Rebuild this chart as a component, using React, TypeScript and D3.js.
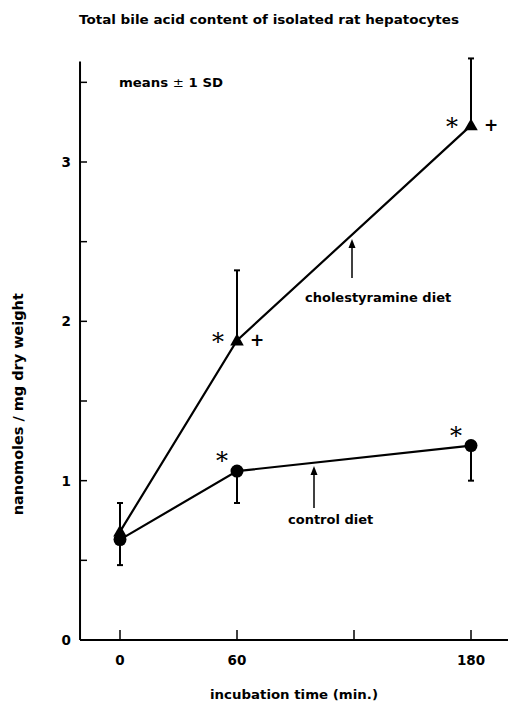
import React from "react";
import * as d3 from "d3";

// incubation times (min.)
const times = [0, 60, 180];

// nanomoles / mg dry weight, means and SD (only the drawn half of the bar)
const controlMeans = [0.63, 1.06, 1.22];
const controlSD = [0.16, 0.2, 0.22];
const cholMeans = [0.68, 1.88, 3.23];
const cholSD = [0.18, 0.44, 0.42];

// significance marks per time point
const controlStars = [false, true, true];
const cholStars = [false, true, true];
const cholPlus = [false, true, true];

const xTicks = [0, 60, 120, 180];
const xTickLabels = ["0", "60", "", "180"];
const yTicks = [0, 0.5, 1, 1.5, 2, 2.5, 3, 3.5];
const yTickLabels = ["0", "", "1", "", "2", "", "3", ""];

const W = 508;
const H = 703;
const FONT = "'DejaVu Sans', 'Liberation Sans', Arial, sans-serif";

// small filled arrowhead pointing up, tip at (0,0)
const arrowHead = "M0,0 L-3.5,9 L3.5,9 Z";

export default function App(): React.ReactElement {
    const x = d3.scaleLinear().domain([0, 180]).range([120, 471]);
    const y = d3.scaleLinear().domain([0, 3]).range([640, 162]);

    const xStart = x(-20.5);
    const xEnd = W;
    const yTop = y(3.63);

    const line = d3.line<number>()
        .x((_, i) => x(times[i]))
        .y((d) => y(d));

    const triangle = d3.symbol().type(d3.symbolTriangle).size(80)();

    return (
        <svg
            width={W}
            height={H}
            style={{ position: "absolute", left: 0, top: 0, background: "#fff" }}
            fontFamily={FONT}
            fontWeight="bold"
            fill="#000"
        >
            <text x={79} y={24} fontSize={13} textLength={380} lengthAdjust="spacingAndGlyphs">
                Total bile acid content of isolated rat hepatocytes
            </text>

            {/* axes */}
            <g stroke="#000" strokeWidth={2} fill="none">
                <line x1={xStart} x2={xStart} y1={y(0)} y2={yTop} />
                <line x1={xStart} x2={xEnd} y1={y(0)} y2={y(0)} />
                {yTicks.map((t) => (
                    <line key={"yt" + t} x1={xStart} x2={xStart + 7} y1={y(t)} y2={y(t)} strokeWidth={1.5} />
                ))}
                {xTicks.map((t) => (
                    <line key={"xt" + t} x1={x(t)} x2={x(t)} y1={y(0)} y2={y(0) - 10} strokeWidth={1.5} />
                ))}
            </g>
            <g fontSize={13.5} textAnchor="end">
                {yTicks.map((t, i) => (
                    <text key={"yl" + t} x={71} y={y(t)} dy="0.36em">{yTickLabels[i]}</text>
                ))}
            </g>
            <g fontSize={13.5} textAnchor="middle">
                {xTicks.map((t, i) => (
                    <text key={"xl" + t} x={x(t)} y={665}>{xTickLabels[i]}</text>
                ))}
            </g>
            <text x={210} y={699} fontSize={13} textLength={168} lengthAdjust="spacingAndGlyphs">
                incubation time (min.)
            </text>
            <text
                transform={`translate(23,${y(1.48)}) rotate(-90)`}
                textAnchor="middle"
                fontSize={13.5}
                textLength={222}
                lengthAdjust="spacingAndGlyphs"
            >
                nanomoles / mg dry weight
            </text>

            <text x={119} y={87} fontSize={13} textLength={104} lengthAdjust="spacingAndGlyphs">
                means <tspan fontWeight="normal">±</tspan> 1 SD
            </text>

            {/* error bars */}
            <g stroke="#000" strokeWidth={2}>
                {times.map((t, i) => (
                    <g key={"ec" + t}>
                        <line x1={x(t)} x2={x(t)} y1={y(controlMeans[i])} y2={y(controlMeans[i] - controlSD[i])} />
                        <line x1={x(t) - 3} x2={x(t) + 3} y1={y(controlMeans[i] - controlSD[i])} y2={y(controlMeans[i] - controlSD[i])} />
                    </g>
                ))}
                {times.map((t, i) => (
                    <g key={"eh" + t}>
                        <line x1={x(t)} x2={x(t)} y1={y(cholMeans[i])} y2={y(cholMeans[i] + cholSD[i])} />
                        <line x1={x(t) - 3} x2={x(t) + 3} y1={y(cholMeans[i] + cholSD[i])} y2={y(cholMeans[i] + cholSD[i])} />
                    </g>
                ))}
            </g>

            {/* series lines */}
            <path d={line(controlMeans) ?? ""} fill="none" stroke="#000" strokeWidth={2.2} />
            <path d={line(cholMeans) ?? ""} fill="none" stroke="#000" strokeWidth={2.2} />

            {/* markers */}
            {times.map((t, i) => (
                <circle key={"c" + t} cx={x(t)} cy={y(controlMeans[i])} r={6.5} />
            ))}
            {times.map((t, i) => (
                <path key={"t" + t} d={triangle ?? ""} transform={`translate(${x(t)},${y(cholMeans[i]) + 1})`} />
            ))}

            {/* significance marks */}
            <g fontFamily="'DejaVu Serif', serif" fontWeight="normal" fontSize={24} textAnchor="middle">
                {times.map((t, i) => controlStars[i] ? (
                    <text key={"sc" + t} x={x(t) - 15} y={y(controlMeans[i]) - 2}>*</text>
                ) : null)}
                {times.map((t, i) => cholStars[i] ? (
                    <text key={"sh" + t} x={x(t) - 19} y={y(cholMeans[i]) + 10}>*</text>
                ) : null)}
            </g>
            <g fontSize={17} textAnchor="middle">
                {times.map((t, i) => cholPlus[i] ? (
                    <text key={"p" + t} x={x(t) + 20} y={y(cholMeans[i]) + 6}>+</text>
                ) : null)}
            </g>

            {/* annotations */}
            <line x1={352} x2={352} y1={278} y2={246} stroke="#000" strokeWidth={1.5} />
            <path d={arrowHead} transform="translate(352,239)" />
            <text x={305} y={302} fontSize={13}>cholestyramine diet</text>
            <line x1={314} x2={314} y1={508} y2={472} stroke="#000" strokeWidth={1.5} />
            <path d={arrowHead} transform="translate(314,466)" />
            <text x={288} y={524} fontSize={13}>control diet</text>
        </svg>
    );
}
